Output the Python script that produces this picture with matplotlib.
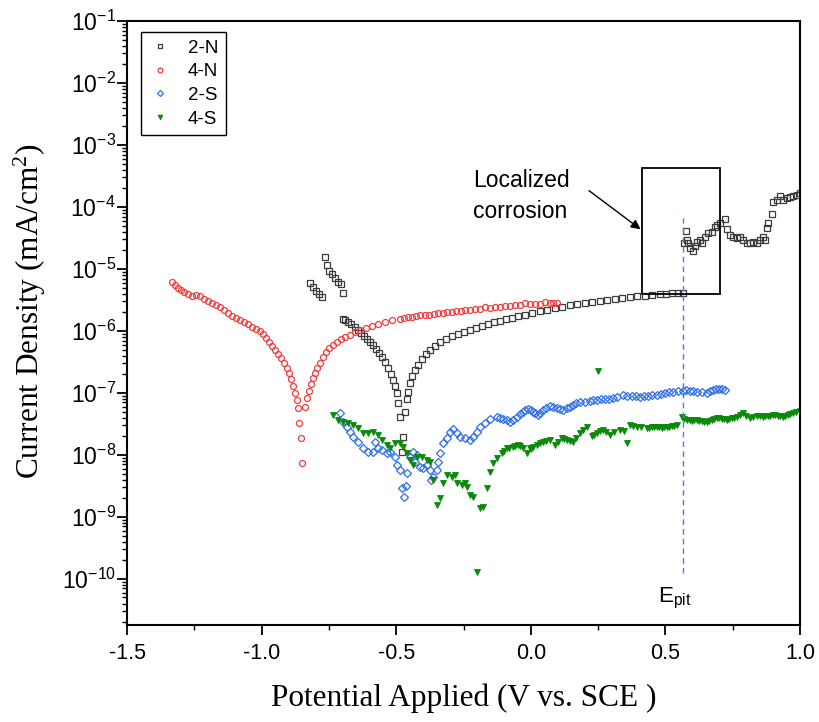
import matplotlib
matplotlib.use("Agg")
import matplotlib.pyplot as plt
from matplotlib.ticker import FixedLocator, FixedFormatter, LogLocator, MultipleLocator, NullFormatter
from matplotlib.patches import Rectangle

plt.rcParams['font.family'] = ['Liberation Sans', 'DejaVu Sans']
plt.rcParams['mathtext.fontset'] = 'custom'
plt.rcParams['mathtext.rm'] = 'Liberation Sans'
plt.rcParams['mathtext.it'] = 'Liberation Sans:italic'

# ---------------- data (potential in V vs SCE, current density in mA/cm^2) ----------------
x_2N = [-0.821, -0.810, -0.799, -0.788, -0.776,
        -0.765, -0.758, -0.750, -0.739, -0.728, -0.717, -0.706, -0.698,
        -0.698, -0.691, -0.680, -0.669, -0.654, -0.643, -0.632, -0.620, -0.609, -0.598,
        -0.587, -0.576, -0.565, -0.553, -0.542, -0.531, -0.520, -0.513, -0.505, -0.498,
        -0.494, -0.487, -0.476, -0.479,
        -0.468, -0.461, -0.457, -0.449, -0.442, -0.431, -0.420, -0.405, -0.390, -0.375,
        -0.357, -0.338, -0.316, -0.293, -0.271, -0.249, -0.227, -0.204, -0.182, -0.160,
        -0.137, -0.115, -0.093, -0.071, -0.048, -0.022, 0.004, 0.033, 0.059, 0.089,
        0.115, 0.145, 0.171, 0.201, 0.227, 0.256, 0.282, 0.312, 0.338, 0.368,
        0.394, 0.423, 0.449, 0.479, 0.501, 0.524, 0.546, 0.565,
        0.568, 0.576, 0.580, 0.583, 0.591, 0.602, 0.609, 0.617, 0.628, 0.635,
        0.646, 0.657, 0.672, 0.684, 0.691, 0.702, 0.721, 0.728, 0.739, 0.750,
        0.765, 0.776, 0.787, 0.802, 0.814, 0.825, 0.840, 0.851, 0.862, 0.869,
        0.877, 0.880, 0.895, 0.899, 0.914, 0.925, 0.936, 0.951, 0.962, 0.973,
        0.988, 0.999]
j_2N = [5.95e-6, 5.13e-6, 4.42e-6, 3.95e-6, 3.54e-6,
        1.56e-5, 1.16e-5, 9.28e-6, 8.31e-6, 7.16e-6, 6.17e-6, 5.73e-6, 4.10e-6,
        1.56e-6, 1.50e-6, 1.40e-6, 1.30e-6, 1.16e-6, 1.04e-6, 9.28e-7, 8.31e-7, 7.43e-7, 6.65e-7,
        5.95e-7, 5.13e-7, 4.42e-7, 3.81e-7, 3.16e-7, 2.53e-7, 2.03e-7, 1.62e-7, 1.30e-7, 1.0e-7,
        6.90e-8, 4.10e-8, 1.95e-8, 1.12e-8,
        4.94e-8, 8.0e-8, 1.04e-7, 1.45e-7, 1.88e-7, 2.35e-7, 2.83e-7, 3.54e-7, 4.26e-7, 4.94e-7,
        5.73e-7, 6.65e-7, 7.43e-7, 8.31e-7, 8.95e-7, 9.64e-7, 1.04e-6, 1.12e-6, 1.20e-6, 1.30e-6,
        1.40e-6, 1.45e-6, 1.56e-6, 1.62e-6, 1.75e-6, 1.81e-6, 1.95e-6, 2.10e-6, 2.18e-6, 2.35e-6,
        2.44e-6, 2.63e-6, 2.73e-6, 2.83e-6, 2.94e-6, 3.05e-6, 3.16e-6, 3.28e-6, 3.41e-6, 3.54e-6,
        3.67e-6, 3.67e-6, 3.81e-6, 3.95e-6, 3.95e-6, 4.10e-6, 4.10e-6, 4.10e-6,
        2.63e-5, 4.10e-5, 2.94e-5, 2.63e-5, 2.18e-5, 1.95e-5, 2.35e-5, 2.73e-5, 2.94e-5, 2.63e-5,
        3.28e-5, 3.81e-5, 3.95e-5, 4.76e-5, 5.13e-5, 5.52e-5, 6.40e-5, 4.42e-5, 3.54e-5, 3.28e-5,
        3.16e-5, 3.28e-5, 2.94e-5, 2.63e-5, 2.63e-5, 2.73e-5, 2.63e-5, 2.94e-5, 3.28e-5, 2.94e-5,
        4.59e-5, 5.52e-5, 7.71e-5, 1.20e-4, 1.30e-4, 1.50e-4, 1.30e-4, 1.40e-4, 1.45e-4, 1.50e-4,
        1.56e-4, 1.68e-4]

x_4N = [-1.334, -1.322, -1.311, -1.300, -1.289, -1.274, -1.259, -1.244, -1.229, -1.214,
        -1.200, -1.185, -1.170, -1.155, -1.140, -1.125, -1.111, -1.096, -1.081, -1.066,
        -1.051, -1.036, -1.022, -1.007, -0.996, -0.984, -0.973, -0.962, -0.951, -0.940,
        -0.929, -0.918, -0.906, -0.899, -0.892, -0.884, -0.877, -0.869, -0.866, -0.862,
        -0.854, -0.851,
        -0.840, -0.832, -0.825, -0.817, -0.810, -0.802, -0.795, -0.784, -0.773, -0.762,
        -0.750, -0.736, -0.721, -0.706, -0.691, -0.672, -0.654, -0.635, -0.613, -0.591,
        -0.568, -0.542, -0.516, -0.487, -0.472, -0.457, -0.442, -0.427, -0.412, -0.394,
        -0.379, -0.360, -0.345, -0.327, -0.312, -0.293, -0.279, -0.260, -0.245, -0.227,
        -0.208, -0.189, -0.171, -0.152, -0.134, -0.115, -0.097, -0.078, -0.059, -0.041,
        -0.022, -0.004, 0.015, 0.033, 0.052, 0.071, 0.082, 0.097]
j_4N = [6.17e-6, 5.52e-6, 4.94e-6, 4.59e-6, 4.26e-6, 3.95e-6, 3.67e-6, 3.81e-6, 3.67e-6, 3.28e-6,
        3.05e-6, 2.83e-6, 2.63e-6, 2.44e-6, 2.18e-6, 1.95e-6, 1.75e-6, 1.62e-6, 1.50e-6, 1.40e-6,
        1.30e-6, 1.16e-6, 1.08e-6, 1.0e-6, 8.95e-7, 7.71e-7, 6.65e-7, 5.73e-7, 4.94e-7, 4.26e-7,
        3.67e-7, 3.05e-7, 2.53e-7, 2.10e-7, 1.68e-7, 1.30e-7, 1.0e-7, 7.71e-8, 5.73e-8, 3.28e-8,
        1.88e-8, 7.43e-9,
        5.95e-8, 8.31e-8, 1.08e-7, 1.40e-7, 1.75e-7, 2.10e-7, 2.53e-7, 3.05e-7, 3.81e-7, 4.59e-7,
        5.32e-7, 5.95e-7, 6.65e-7, 7.43e-7, 8.0e-7, 8.62e-7, 9.64e-7, 1.04e-6, 1.12e-6, 1.20e-6,
        1.30e-6, 1.40e-6, 1.50e-6, 1.56e-6, 1.62e-6, 1.68e-6, 1.68e-6, 1.75e-6, 1.81e-6, 1.81e-6,
        1.81e-6, 1.88e-6, 1.95e-6, 1.95e-6, 2.03e-6, 2.03e-6, 2.10e-6, 2.10e-6, 2.18e-6, 2.18e-6,
        2.26e-6, 2.26e-6, 2.44e-6, 2.35e-6, 2.44e-6, 2.44e-6, 2.53e-6, 2.53e-6, 2.63e-6, 2.63e-6,
        2.83e-6, 2.73e-6, 2.73e-6, 2.73e-6, 2.94e-6, 2.83e-6, 2.83e-6, 2.83e-6]

x_2S = [-0.710, -0.698, -0.684, -0.672, -0.661, -0.643, -0.624, -0.606, -0.587, -0.580,
        -0.568, -0.553, -0.535, -0.524, -0.505, -0.498, -0.487, -0.461, -0.479, -0.464,
        -0.472, -0.449, -0.438, -0.423, -0.431, -0.412, -0.401, -0.386, -0.375, -0.364,
        -0.371, -0.349, -0.345, -0.338, -0.327, -0.312, -0.301, -0.290, -0.275, -0.264,
        -0.245, -0.227, -0.215, -0.201, -0.189, -0.171, -0.152, -0.126, -0.104, -0.078,
        -0.052, -0.030, -0.011, 0.007, 0.026, 0.045, 0.071, 0.097, 0.119, 0.134,
        0.156, 0.182, 0.219, 0.245, 0.275, 0.305, 0.342, 0.375, 0.405, 0.435,
        0.468, 0.498, 0.527, 0.565, 0.591, 0.617, 0.654, 0.676, 0.698, 0.721,
        -0.115, -0.090, -0.065, -0.040, -0.020, 0.000, 0.015, 0.035, 0.058, 0.084,
        0.108, 0.145, 0.168, 0.200, 0.232, 0.260, 0.290, 0.320, 0.358, 0.390,
        0.420, 0.450, 0.483, 0.512, 0.545, 0.578, 0.604, 0.635, 0.665, 0.687, 0.710]
j_2S = [4.76e-8, 3.41e-8, 2.83e-8, 2.35e-8, 1.95e-8, 1.62e-8, 1.30e-8, 1.12e-8, 1.12e-8, 1.62e-8,
        1.30e-8, 1.20e-8, 1.08e-8, 1.12e-8, 9.3e-9, 6.90e-9, 5.73e-9, 5.13e-9, 2.94e-9, 3.16e-9,
        2.10e-9, 9.3e-9, 1.12e-8, 1.0e-8, 7.71e-9, 6.40e-9, 6.17e-9, 6.90e-9, 5.73e-9, 4.42e-9,
        3.95e-9, 5.73e-9, 7.71e-9, 1.08e-8, 1.56e-8, 1.88e-8, 2.35e-8, 2.63e-8, 2.26e-8, 1.95e-8,
        1.88e-8, 1.75e-8, 1.95e-8, 2.35e-8, 2.83e-8, 3.28e-8, 3.81e-8, 4.10e-8, 3.81e-8, 3.41e-8,
        4.10e-8, 4.94e-8, 5.52e-8, 4.94e-8, 4.42e-8, 5.32e-8, 6.17e-8, 5.73e-8, 5.32e-8, 5.73e-8,
        6.40e-8, 7.16e-8, 7.43e-8, 7.71e-8, 8.0e-8, 8.31e-8, 9.28e-8, 8.95e-8, 8.62e-8, 8.95e-8,
        9.28e-8, 1.0e-7, 1.04e-7, 1.08e-7, 1.08e-7, 1.04e-7, 1.0e-7, 1.12e-7, 1.16e-7, 1.12e-7,
        3.95e-8, 3.60e-8, 3.70e-8, 4.50e-8, 5.20e-8, 5.20e-8, 4.70e-8, 4.80e-8, 5.80e-8, 6.00e-8,
        5.50e-8, 6.00e-8, 6.80e-8, 7.20e-8, 7.60e-8, 7.90e-8, 8.10e-8, 8.60e-8, 9.00e-8, 8.80e-8,
        8.80e-8, 9.10e-8, 9.60e-8, 1.02e-7, 1.06e-7, 1.10e-7, 1.06e-7, 1.02e-7, 1.06e-7, 1.14e-7, 1.16e-7]

x_4S = [-0.736, -0.717, -0.698, -0.680, -0.661, -0.643, -0.624, -0.606, -0.587, -0.568,
        -0.553, -0.535, -0.524, -0.505, -0.487, -0.475, -0.461, -0.449, -0.438, -0.423,
        -0.405, -0.386, -0.375, -0.364, -0.349, -0.338, -0.327, -0.312, -0.293, -0.282,
        -0.275, -0.256, -0.245, -0.238, -0.227, -0.215, -0.201, -0.189, -0.178, -0.163,
        -0.152, -0.141, -0.126, -0.108, -0.089, -0.067, -0.048, -0.030, -0.015, -0.004,
        0.022, 0.045, 0.071, 0.089, 0.115, 0.134, 0.156, 0.182, 0.208, 0.227,
        0.245, 0.249, 0.267, 0.293, 0.331, 0.357, 0.368, 0.394, 0.431, 0.449,
        0.468, 0.487, 0.505, 0.524, 0.542, 0.561, 0.580, 0.598, 0.617, 0.635,
        0.654, 0.672, 0.691, 0.709, 0.728, 0.746, 0.765, 0.788, 0.814, 0.840,
        0.862, 0.880, 0.899, 0.918, 0.936, 0.955, 0.973, 0.999,
        -0.100, -0.080, -0.057, -0.040, 0.000, 0.010, 0.034, 0.058, 0.100, 0.125,
        0.145, 0.168, 0.195, 0.236, 0.256, 0.280, 0.310, 0.345, 0.380, 0.410,
        0.440, 0.458, 0.478, 0.496, 0.515, 0.533, 0.570, 0.590, 0.607, 0.626,
        0.645, 0.663, 0.681, 0.700, 0.718, 0.737, 0.755, 0.776, 0.800, 0.827,
        0.851, 0.871, 0.890, 0.908, 0.927, 0.945, 0.964, 0.985]
j_4S = [4.42e-8, 3.67e-8, 3.41e-8, 3.28e-8, 3.05e-8, 2.73e-8, 2.26e-8, 2.26e-8, 2.35e-8, 2.10e-8,
        1.75e-8, 1.45e-8, 1.30e-8, 1.56e-8, 1.56e-8, 1.35e-8, 1.08e-8, 8.3e-9, 6.90e-9, 9.28e-9,
        9.28e-9, 8.3e-9, 7.71e-9, 3.95e-9, 1.56e-9, 2.03e-9, 3.54e-9, 4.76e-9, 4.42e-9, 4.76e-9,
        3.54e-9, 3.28e-9, 3.54e-9, 3.05e-9, 2.26e-9, 2.10e-9, 1.30e-10, 1.40e-9, 1.45e-9, 2.94e-9,
        5.32e-9, 7.43e-9, 8.95e-9, 1.08e-8, 1.30e-8, 1.35e-8, 1.45e-8, 1.30e-8, 1.08e-8, 1.30e-8,
        1.45e-8, 1.62e-8, 1.75e-8, 1.45e-8, 1.88e-8, 1.75e-8, 1.62e-8, 2.26e-8, 2.83e-8, 2.03e-8,
        2.26e-8, 2.26e-7, 2.53e-8, 2.10e-8, 2.53e-8, 1.56e-8, 3.05e-8, 2.83e-8, 2.73e-8, 2.83e-8,
        2.83e-8, 2.73e-8, 2.83e-8, 2.94e-8, 3.05e-8, 4.10e-8, 3.67e-8, 3.54e-8, 3.67e-8, 3.54e-8,
        3.41e-8, 3.67e-8, 3.95e-8, 3.81e-8, 3.67e-8, 3.95e-8, 4.10e-8, 4.76e-8, 3.95e-8, 4.26e-8,
        4.10e-8, 4.26e-8, 4.42e-8, 4.26e-8, 4.10e-8, 4.42e-8, 4.76e-8, 5.13e-8,
        1.15e-8, 1.30e-8, 1.40e-8, 1.38e-8, 1.25e-8, 1.35e-8, 1.55e-8, 1.70e-8, 1.60e-8, 1.80e-8,
        1.70e-8, 1.90e-8, 2.50e-8, 2.10e-8, 2.40e-8, 2.30e-8, 2.30e-8, 2.40e-8, 2.90e-8, 2.80e-8,
        2.75e-8, 2.80e-8, 2.85e-8, 2.80e-8, 2.85e-8, 2.95e-8, 3.80e-8, 3.60e-8, 3.60e-8, 3.50e-8,
        3.45e-8, 3.55e-8, 3.80e-8, 3.90e-8, 3.75e-8, 3.80e-8, 4.00e-8, 4.40e-8, 4.30e-8, 4.10e-8,
        4.20e-8, 4.20e-8, 4.30e-8, 4.35e-8, 4.20e-8, 4.25e-8, 4.60e-8, 4.90e-8]

series_labels = ['2-N', '4-N', '2-S', '4-S']
x_ticks = [-1.5, -1.0, -0.5, 0.0, 0.5, 1.0]
x_tick_labels = ['-1.5', '-1.0', '-0.5', '0.0', '0.5', '1.0']
y_ticks = [1e-10, 1e-9, 1e-8, 1e-7, 1e-6, 1e-5, 1e-4, 1e-3, 1e-2, 1e-1]
y_tick_labels = [r'$\mathregular{10^{-10}}$', r'$\mathregular{10^{-9}}$', r'$\mathregular{10^{-8}}$',
                 r'$\mathregular{10^{-7}}$', r'$\mathregular{10^{-6}}$', r'$\mathregular{10^{-5}}$',
                 r'$\mathregular{10^{-4}}$', r'$\mathregular{10^{-3}}$', r'$\mathregular{10^{-2}}$',
                 r'$\mathregular{10^{-1}}$']
E_pit = 0.565
box_x = [0.412, 0.702]
box_y = [3.95e-6, 4.26e-4]

# ---------------- figure ----------------
fig = plt.figure(figsize=(8.19, 7.22), dpi=100)
ax = fig.add_axes([127/819, 1-625/722, 673/819, 604/722])

ax.plot(x_2N, j_2N, ls='none', marker='s', ms=4.2, mfc='none', mec='#3c3c3c', mew=0.9, label=series_labels[0])
ax.plot(x_4N, j_4N, ls='none', marker='o', ms=4.3, mfc='none', mec='#f23c3c', mew=0.9, label=series_labels[1])
ax.plot(x_2S, j_2S, ls='none', marker='D', ms=3.8, mfc='none', mec='#2f6fe6', mew=0.9, label=series_labels[2])
ax.plot(x_4S, j_4S, ls='none', marker='v', ms=4.3, mfc='#0a8a0a', mec='#0a8a0a', mew=0.6, label=series_labels[3])

ax.set_yscale('log')
ax.set_xlim(-1.5, 1.0)
ax.set_ylim(1.8e-11, 1e-1)

ax.xaxis.set_major_locator(FixedLocator(x_ticks))
ax.xaxis.set_major_formatter(FixedFormatter(x_tick_labels))
ax.xaxis.set_minor_locator(MultipleLocator(0.25))
ax.yaxis.set_major_locator(FixedLocator(y_ticks))
ax.yaxis.set_major_formatter(FixedFormatter(y_tick_labels))
ax.yaxis.set_minor_locator(LogLocator(base=10, subs=range(2, 10), numticks=20))
ax.yaxis.set_minor_formatter(NullFormatter())

ax.tick_params(axis='both', which='major', direction='out', length=7, width=1.3)
ax.tick_params(axis='x', which='major', labelsize=15.5, pad=6)
ax.tick_params(axis='y', which='major', labelsize=16.5, pad=1)
ax.tick_params(axis='both', which='minor', direction='out', length=3.5, width=1.0)
for s in ax.spines.values():
    s.set_linewidth(1.5)

ax.set_xlabel('Potential Applied (V vs. SCE )', family='Liberation Serif', fontsize=22.5, labelpad=14)
ax.set_ylabel(r'Current Density (mA/cm$\mathregular{^2}$)', family='Liberation Serif', fontsize=22.5)
ax.yaxis.set_label_coords(-0.117, 0.52)

# E_pit dashed line
ax.plot([E_pit, E_pit], [1.25e-10, 6.6e-5], ls=(0, (4, 3)), color='#4a7fd4', lw=1.0)
ax.text(0.472, 4.9e-11, r'$\mathregular{E_{pit}}$', fontsize=16, ha='left', va='center')

# localized corrosion box and arrow
ax.add_patch(Rectangle((box_x[0], box_y[0]), box_x[1]-box_x[0], box_y[1]-box_y[0],
                       fill=False, ec='black', lw=1.3, zorder=5))
ax.annotate('', xy=(0.416, 4.1e-5), xytext=(0.208, 1.95e-4),
            arrowprops=dict(arrowstyle='-|>', color='black', lw=1.0, mutation_scale=14))
ax.text(-0.215, 1.5e-4, 'Localized\ncorrosion', fontsize=16.5, ha='left', va='center', linespacing=1.45)

leg = ax.legend(loc='upper left', bbox_to_anchor=(144/819 - 127/819, 1 - (32-21)/604), bbox_transform=ax.transAxes,
                fontsize=13.5, frameon=True, fancybox=False, edgecolor='black', borderaxespad=0,
                handlelength=1.2, handletextpad=0.9, labelspacing=0.35, borderpad=0.4, markerscale=0.8)
leg.get_frame().set_linewidth(1.0)
leg.get_frame().set_alpha(1)

fig.savefig('out.png', dpi=100)
